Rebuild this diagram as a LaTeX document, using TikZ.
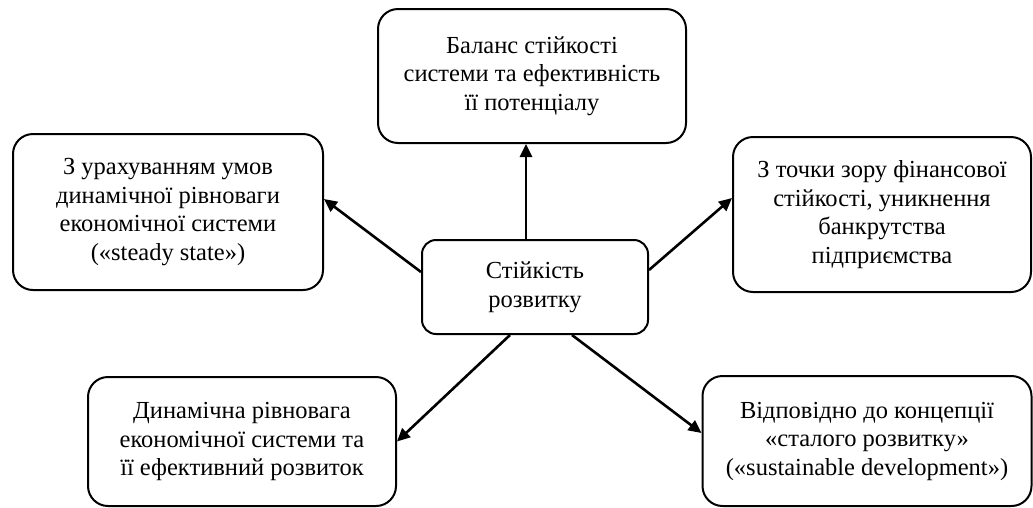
\documentclass[tikz,border=0pt]{standalone}
\usepackage{fontspec}
\setmainfont{Liberation Serif}
\usetikzlibrary{arrows.meta,calc}
\begin{document}
\begin{tikzpicture}[x=1pt,y=-1pt,
  box/.style={draw=black,line width=2pt,rounded corners=20pt,align=center,inner sep=0pt,
    font=\fontsize{24.5}{28.5}\selectfont},
  arr/.style={line width=2.6pt,-{Triangle[length=13pt,width=12pt]}}]
\useasboundingbox (0,0) rectangle (1033,507);
\node[box,minimum width=308pt,minimum height=134pt] (t) at (532,76) {Баланс стійкості\\системи та ефективність\\її потенціалу};
\node[box,rounded corners=14pt,minimum width=226pt,minimum height=94pt] (c) at (535,287) {Стійкість\\розвитку};
\node[box,minimum width=310pt,minimum height=156pt] (lu) at (168,212) {З урахуванням умов\\динамічної рівноваги\\економічної системи\\(«steady state»)};
\node[box,minimum width=298pt,minimum height=155pt] (ru) at (882,214.5) {З точки зору фінансової\\стійкості, уникнення\\банкрутства\\підприємства};
\node[box,minimum width=308pt,minimum height=129pt] (bl) at (242,441.5) {Динамічна рівновага\\економічної системи та\\її ефективний розвиток};
\node[box,minimum width=329pt,minimum height=130pt] (br) at (867,441) {Відповідно до концепції\\«сталого розвитку»\\(«sustainable development»)};
\draw[arr] ([xshift=-9pt]c.north) -- ([xshift=-6pt]t.south);
\draw[arr] ([yshift=15pt]c.west) -- ([yshift=13pt]lu.east);
\draw[arr] ([yshift=17pt]c.east) -- ([yshift=16.5pt]ru.west);
\draw[arr] ([xshift=-25pt]c.south) -- (bl.east);
\draw[arr] ([xshift=37pt]c.south) -- ([yshift=8pt]br.west);
\end{tikzpicture}
\end{document}
